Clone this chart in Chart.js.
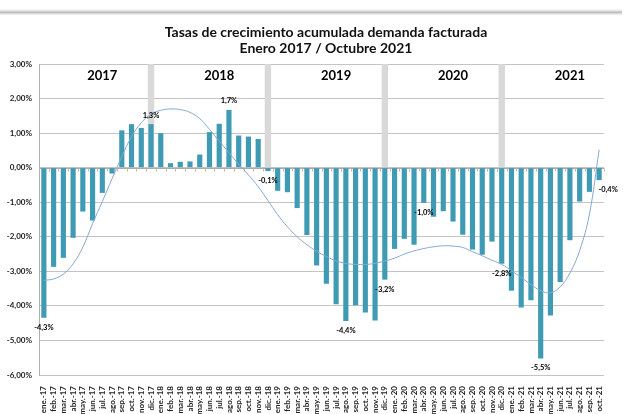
<!DOCTYPE html>
<html><head><meta charset="utf-8">
<script src="https://cdn.jsdelivr.net/npm/chart.js@4/dist/chart.umd.min.js"></script>
<style>html,body{margin:0;padding:0;background:#fff}#wrap{width:629px;height:414px;position:relative}</style>
</head><body><div id="wrap"><canvas id="c" width="629" height="414"></canvas></div>
<script>
const categories = [
 'ene.-17','feb.-17','mar.-17','abr.-17','may.-17','jun.-17','jul.-17','ago.-17','sep.-17','oct.-17','nov.-17','dic.-17',
 'ene.-18','feb.-18','mar.-18','abr.-18','may.-18','jun.-18','jul.-18','ago.-18','sep.-18','oct.-18','nov.-18','dic.-18',
 'ene.-19','feb.-19','mar.-19','abr.-19','may.-19','jun.-19','jul.-19','ago.-19','sep.-19','oct.-19','nov.-19','dic.-19',
 'ene.-20','feb.-20','mar.-20','abr.-20','may.-20','jun.-20','jul.-20','ago.-20','sep.-20','oct.-20','nov.-20','dic.-20',
 'ene.-21','feb.-21','mar.-21','abr.-21','may.-21','jun.-21','jul.-21','ago.-21','sep.-21','oct.-21'];
const growth = [
 -4.34,-2.87,-2.61,-2.03,-1.27,-1.53,-0.73,-0.17,1.08,1.26,1.15,1.26,
 1.00,0.13,0.17,0.18,0.38,1.03,1.27,1.67,0.93,0.90,0.83,-0.10,
 -0.67,-0.71,-1.17,-1.95,-2.83,-3.36,-3.95,-4.44,-3.98,-4.19,-4.42,-3.24,
 -2.35,-2.06,-2.23,-1.02,-1.42,-1.26,-1.56,-1.94,-2.37,-2.52,-2.14,-2.78,
 -3.56,-4.05,-3.84,-5.52,-4.28,-3.31,-2.10,-0.98,-0.70,-0.36];
const trend = [
 -3.26,-3.22,-3.08,-2.78,-2.30,-1.62,-0.98,-0.32,0.32,0.90,1.30,1.55,
 1.66,1.70,1.68,1.60,1.42,1.11,0.77,0.43,0.10,-0.21,-0.55,-0.95,
 -1.36,-1.71,-2.00,-2.23,-2.42,-2.57,-2.70,-2.77,-2.80,-2.80,-2.77,-2.70,
 -2.62,-2.50,-2.41,-2.34,-2.29,-2.26,-2.27,-2.31,-2.43,-2.55,-2.68,-2.80,
 -2.98,-3.18,-3.38,-3.56,-3.62,-3.45,-3.05,-2.40,-1.35,0.52];
const yearLabels = ['2017','2018','2019','2020','2021'];
const yearLabelMonths = ['jul.-17','jul.-18','jul.-19','jul.-20','jul.-21'];
const yearLabelLevel = 2.65;
const separatorMonths = ['dic.-17','dic.-18','dic.-19','dic.-20'];
const separatorTop = 3;
const labelledMonths = ['ene.-17','dic.-17','ago.-18','dic.-18','ago.-19','dic.-19','abr.-20','dic.-20','abr.-21','oct.-21'];
const yMin = -6, yMax = 3, yStep = 1;
const titleLines = ['Tasas de crecimiento acumulada demanda facturada','Enero 2017 / Octubre 2021'];

const separators = categories.map(c => separatorMonths.includes(c) ? separatorTop : null);
const fmtPct = v => (v.toFixed(1)).replace('.', ',') + '%';

const decor = {
  id: 'decor',
  beforeDraw(chart) {
    const ctx = chart.ctx;
    ctx.save();
    // frame top edge
    const g = ctx.createLinearGradient(0, 9, 0, 16);
    g.addColorStop(0, 'rgba(200,200,200,0)');
    g.addColorStop(0.5, 'rgba(190,190,190,1)');
    g.addColorStop(1, 'rgba(235,235,235,0)');
    ctx.fillStyle = g;
    ctx.fillRect(0, 9, 622, 7);
    // title
    ctx.fillStyle = '#111';
    ctx.font = 'bold 14px Lato';
    ctx.textAlign = 'center';
    ctx.textBaseline = 'alphabetic';
    ctx.fillText(titleLines[0], 326, 37);
    ctx.fillText(titleLines[1], 326, 53);
    ctx.restore();
  },
  beforeDatasetsDraw(chart) {
    const {ctx, scales:{x, y}} = chart;
    const y0 = Math.round(y.getPixelForValue(0)) + 0.5;
    ctx.save();
    ctx.strokeStyle = '#a9a9a9';
    ctx.lineWidth = 1;
    ctx.beginPath();
    ctx.moveTo(x.left, y0); ctx.lineTo(x.right, y0);
    ctx.stroke();
    ctx.strokeStyle = '#c7b79c';
    ctx.beginPath();
    for (let i = 0; i <= categories.length; i++) {
      const px = Math.round(x.left + (x.right - x.left) * i / categories.length) + 0.5;
      ctx.moveTo(px, y0); ctx.lineTo(px, y0 + 3);
    }
    ctx.stroke();
    ctx.restore();
  },
  afterDatasetsDraw(chart) {
    const {ctx, scales:{x, y}} = chart;
    ctx.save();
    ctx.fillStyle = '#000';
    ctx.textAlign = 'center';
    ctx.textBaseline = 'middle';
    ctx.font = 'bold 13px Lato';
    yearLabels.forEach((t, k) => {
      ctx.fillText(t, x.getPixelForValue(categories.indexOf(yearLabelMonths[k])), y.getPixelForValue(yearLabelLevel));
    });
    ctx.font = 'bold 7.5px Lato';
    labelledMonths.forEach(m => {
      const i = categories.indexOf(m);
      const v = growth[i];
      let px = x.getPixelForValue(i);
      const py = y.getPixelForValue(v) + (v < 0 ? 9.5 : -9);
      if (i === categories.length - 1) px += 9;
      ctx.fillText(fmtPct(v), px, py);
    });
    ctx.restore();
  }
};

new Chart(document.getElementById('c'), {
  data: {
    labels: categories,
    datasets: [
      { type: 'line', data: trend, borderColor: '#86a7d3', borderWidth: 1, pointRadius: 0, tension: 0.4, fill: false, order: 0 },
      { type: 'bar', data: growth, backgroundColor: '#3f9bb4', barPercentage: 0.53, categoryPercentage: 1, order: 1 },
      { type: 'bar', data: separators, backgroundColor: '#d9d9d9', barPercentage: 0.66, categoryPercentage: 1, order: 2 }
    ]
  },
  options: {
    responsive: false,
    animation: false,
    devicePixelRatio: 1,
    layout: { padding: { top: 64, right: 25, left: 0, bottom: 0 } },
    plugins: { legend: { display: false }, tooltip: { enabled: false }, title: { display: false } },
    datasets: { bar: { grouped: false } },
    scales: {
      x: {
        grid: { display: false }, border: { display: false },
        ticks: { autoSkip: false, maxRotation: 90, minRotation: 90, padding: 3, color: '#222', font: { family: 'Lato', weight: 'bold', size: 8 } },
        afterFit: s => { s.height = 39; }
      },
      y: {
        min: yMin, max: yMax,
        ticks: { stepSize: yStep, padding: 7, color: '#222', font: { family: 'Lato', weight: 'bold', size: 8 },
          callback: v => v.toFixed(2).replace('.', ',') + '%' },
        grid: { color: '#c4c4c4', drawTicks: false },
        border: { color: '#b0b0b0' },
        afterFit: s => { s.width = 39; }
      }
    }
  },
  plugins: [decor]
});
</script></body></html>
